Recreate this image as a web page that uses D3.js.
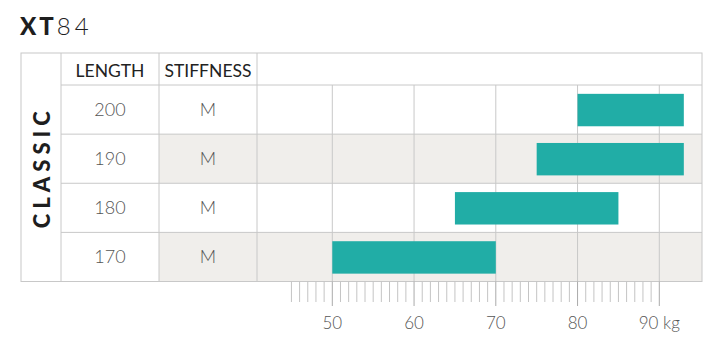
<!DOCTYPE html>
<html>
<head>
<meta charset="utf-8">
<script src="https://cdn.jsdelivr.net/npm/d3@7/dist/d3.min.js"></script>
<style>
  body { margin: 0; background: #fff; }
  svg { display: block; font-family: Lato, "Open Sans", sans-serif; }
</style>
</head>
<body>
<svg id="chart" width="722" height="354"></svg>
<script>
// data
const lengths = ["200", "190", "180", "170"];
const stiffness = ["M", "M", "M", "M"];
const weightMin = [80, 75, 65, 50];
const weightMax = [93, 93, 85, 70];
const majorTicks = [50, 60, 70, 80, 90];
const minorTicks = d3.range(45, 91);
const groupLabel = "CLASSIC";

const svg = d3.select("#chart");

// layout
const tableLeft = 21, tableTop = 53, headerBottom = 85, tableBottom = 281.5;
const colGroup = 61, colStiff = 159, colChart = 257, tableRight = 702;

const x = d3.scaleLinear().domain([50, 90]).range([332.3, 659.3]);
const y = d3.scaleBand().domain(lengths).range([headerBottom, tableBottom]);

const lineCol = "#c8c8c8";

// title
const title = svg.append("text").attr("x", 20).attr("y", 34.5)
    .attr("font-size", 24).attr("fill", "#1e1e1e");
title.append("tspan").attr("font-weight", 900).attr("letter-spacing", 3).text("XT");
title.append("tspan").attr("font-weight", 300).attr("letter-spacing", 4).text("84");

// shaded rows
lengths.forEach((l, i) => {
    if (i % 2 === 1) {
        svg.append("rect")
            .attr("x", colStiff).attr("y", y(l))
            .attr("width", tableRight - colStiff).attr("height", y.bandwidth())
            .attr("fill", "#f0eeeb");
    }
});

// vertical grid in chart area
svg.append("g").selectAll("line")
    .data(majorTicks)
    .join("line")
    .attr("x1", d => x(d)).attr("x2", d => x(d))
    .attr("y1", headerBottom).attr("y2", tableBottom)
    .attr("stroke", lineCol).attr("stroke-width", 1);

// bars
svg.append("g").selectAll("rect")
    .data(lengths)
    .join("rect")
    .attr("x", (d, i) => x(weightMin[i]))
    .attr("y", d => y(d) + y.bandwidth() * 0.18)
    .attr("width", (d, i) => x(weightMax[i]) - x(weightMin[i]))
    .attr("height", y.bandwidth() * 0.66)
    .attr("fill", "#21ada6");

// table lines
const grid = svg.append("g").attr("stroke", lineCol).attr("stroke-width", 1).attr("fill", "none");
grid.append("rect")
    .attr("x", tableLeft).attr("y", tableTop)
    .attr("width", tableRight - tableLeft).attr("height", tableBottom - tableTop);
[colGroup, colStiff, colChart].forEach(cx => {
    grid.append("line").attr("x1", cx).attr("x2", cx).attr("y1", tableTop).attr("y2", tableBottom);
});
[headerBottom].concat(lengths.slice(1).map(l => y(l))).forEach(ly => {
    grid.append("line").attr("x1", colGroup).attr("x2", tableRight).attr("y1", ly).attr("y2", ly);
});

// header text
svg.append("text").attr("x", (colGroup + colStiff) / 2).attr("y", 76.5)
    .attr("text-anchor", "middle").attr("font-size", 17.5).attr("fill", "#222").text("LENGTH");
svg.append("text").attr("x", (colStiff + colChart) / 2).attr("y", 76.5)
    .attr("text-anchor", "middle").attr("font-size", 17.5).attr("fill", "#222").text("STIFFNESS");

// row text
lengths.forEach((l, i) => {
    const cy = y(l) + y.bandwidth() / 2 + 6.5;
    svg.append("text").attr("x", (colGroup + colStiff) / 2).attr("y", cy)
        .attr("text-anchor", "middle").attr("font-size", 18).attr("font-weight", 300)
        .attr("fill", "#555").text(l);
    svg.append("text").attr("x", (colStiff + colChart) / 2).attr("y", cy)
        .attr("text-anchor", "middle").attr("font-size", 18).attr("font-weight", 300)
        .attr("fill", "#555").text(stiffness[i]);
});

// group label
svg.append("text")
    .attr("transform", `translate(${(tableLeft + colGroup) / 2 + 9},${(tableTop + tableBottom) / 2}) rotate(-90)`)
    .attr("text-anchor", "middle")
    .attr("font-size", 22).attr("font-weight", 900).attr("letter-spacing", 5)
    .attr("fill", "#1e1e1e").text(groupLabel);

// axis
const axis = svg.append("g");
axis.selectAll("line.minor")
    .data(minorTicks)
    .join("line")
    .attr("class", "minor")
    .attr("x1", d => x(d)).attr("x2", d => x(d))
    .attr("y1", tableBottom).attr("y2", d => d % 10 === 0 ? 306 : 302)
    .attr("stroke", d => d % 10 === 0 ? "#aaa" : "#c4c4c4").attr("stroke-width", 1);
axis.selectAll("text")
    .data(majorTicks)
    .join("text")
    .attr("x", d => x(d)).attr("y", 329)
    .attr("text-anchor", "middle").attr("font-size", 17).attr("font-weight", 300)
    .attr("fill", "#555")
    .text(d => d === 90 ? "90 kg" : d);
</script>
</body>
</html>
